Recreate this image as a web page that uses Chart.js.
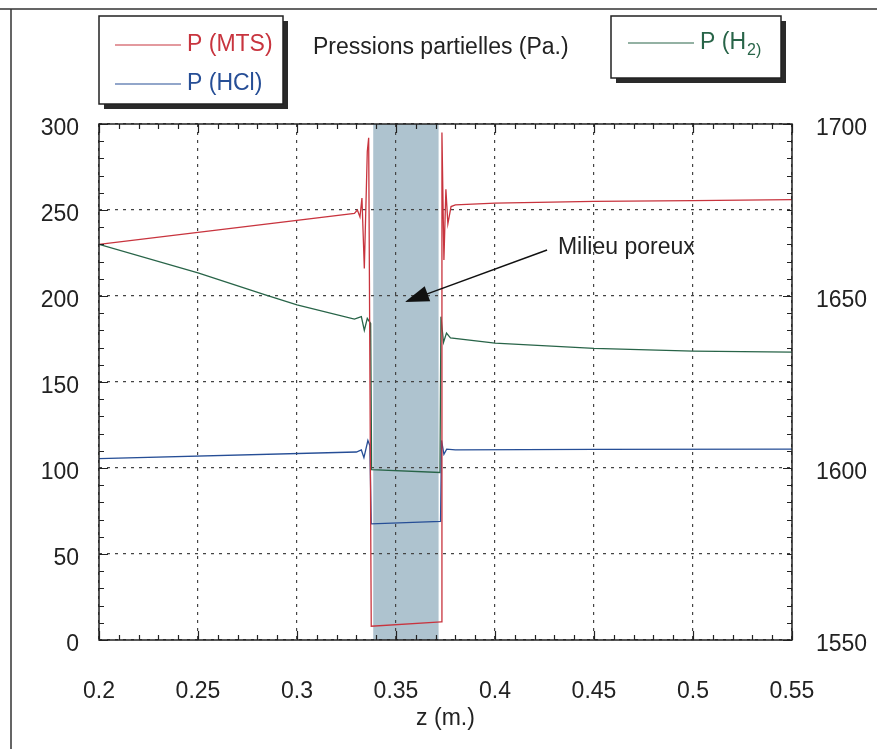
<!DOCTYPE html>
<html>
<head>
<meta charset="utf-8">
<script src="https://cdn.jsdelivr.net/npm/chart.js@4.4.1/dist/chart.umd.min.js"></script>
<style>
  html, body { margin: 0; padding: 0; background: #fff; }
  #wrap { width: 877px; height: 749px; position: relative; }
</style>
</head>
<body>
<div id="wrap"><canvas id="myChart" width="877" height="749"></canvas></div>
<script>
// abscisse z (m.) et pressions partielles
const zMTS = [0.2, 0.329, 0.3305, 0.3318, 0.3328, 0.334, 0.3355, 0.3362, 0.3375, 0.3728, 0.3732, 0.3742, 0.3752, 0.3762, 0.3778, 0.38, 0.4, 0.45, 0.5, 0.55];
const pMTS = [230, 248, 250, 246, 257, 216, 284, 292, 8, 10.5, 295, 221, 262, 242, 252, 253, 254, 255, 255.5, 256];

const zHCl = [0.2, 0.33, 0.3325, 0.3338, 0.3358, 0.3368, 0.3375, 0.3725, 0.373, 0.3742, 0.3756, 0.38, 0.45, 0.55];
const pHCl = [105.5, 109.3, 110.5, 106, 116, 113, 67.5, 69, 116, 108, 111, 110.5, 110.8, 111];

const zH2 = [0.2, 0.25, 0.284, 0.3, 0.329, 0.3325, 0.334, 0.3355, 0.3372, 0.3377, 0.3722, 0.3727, 0.374, 0.3755, 0.3775, 0.4, 0.45, 0.5, 0.55];
const pH2 = [1665, 1656.7, 1650.3, 1647.4, 1643.3, 1644, 1640, 1643.5, 1642, 1599.5, 1598.7, 1644, 1636.5, 1639.2, 1637.8, 1636.3, 1634.8, 1634, 1633.7];

const xTicks = [0.2, 0.25, 0.3, 0.35, 0.4, 0.45, 0.5, 0.55];
const yTicks = [0, 50, 100, 150, 200, 250, 300];
const y2Ticks = [1550, 1600, 1650, 1700];
const porousZone = [0.3385, 0.3715];

const RED = 'rgb(200,52,62)';
const BLUE = 'rgb(38,78,150)';
const GREEN = 'rgb(40,100,72)';
const FONT = "'Liberation Sans', Arial, Helvetica, sans-serif";
const FS = 23;

const toPoints = (xs, ys) => xs.map((x, i) => ({ x: x, y: ys[i] }));

const decorPlugin = {
  id: 'decor',
  beforeDraw(chart) {
    const ctx = chart.ctx;
    const x = chart.scales.x;
    const area = chart.chartArea;
    ctx.save();
    ctx.fillStyle = '#aec3cf';
    const x0 = x.getPixelForValue(porousZone[0]);
    const x1 = x.getPixelForValue(porousZone[1]);
    ctx.fillRect(x0, area.top, x1 - x0, area.bottom - area.top);
    ctx.restore();
  },
  afterDraw(chart) {
    const ctx = chart.ctx;
    const sx = chart.scales.x, sy = chart.scales.y, sy2 = chart.scales.y2;
    const a = chart.chartArea;
    ctx.save();
    // cadre de la page
    ctx.strokeStyle = '#333';
    ctx.lineWidth = 1.5;
    ctx.beginPath();
    ctx.moveTo(0, 9); ctx.lineTo(877, 9);
    ctx.moveTo(11, 9); ctx.lineTo(11, 749);
    ctx.stroke();

    // petites graduations vers l'interieur
    ctx.strokeStyle = '#222';
    ctx.lineWidth = 1.2;
    ctx.beginPath();
    for (let i = 0; i <= 35; i++) {
      const v = 0.2 + i * 0.01;
      const px = Math.round(sx.getPixelForValue(v)) + 0.5;
      const len = i % 5 === 0 ? 9 : 5;
      ctx.moveTo(px, a.bottom); ctx.lineTo(px, a.bottom - len);
      ctx.moveTo(px, a.top); ctx.lineTo(px, a.top + len);
    }
    for (let v = 0; v <= 300; v += 10) {
      const py = Math.round(sy.getPixelForValue(v)) + 0.5;
      const len = v % 50 === 0 ? 9 : 5;
      ctx.moveTo(a.left, py); ctx.lineTo(a.left + len, py);
    }
    for (let v = 1550; v <= 1700; v += 5) {
      const py = Math.round(sy2.getPixelForValue(v)) + 0.5;
      const len = v % 50 === 0 ? 9 : 5;
      ctx.moveTo(a.right, py); ctx.lineTo(a.right - len, py);
    }
    ctx.stroke();
    ctx.lineWidth = 1.5;
    ctx.strokeRect(a.left, a.top, a.right - a.left, a.bottom - a.top);

    // legendes
    const box = (bx, by, bw, bh) => {
      ctx.fillStyle = '#2a2a2a';
      ctx.fillRect(bx + 5, by + 5, bw, bh);
      ctx.fillStyle = '#fff';
      ctx.fillRect(bx, by, bw, bh);
      ctx.strokeStyle = '#222';
      ctx.lineWidth = 1.5;
      ctx.strokeRect(bx, by, bw, bh);
    };
    const entry = (lx, ly, color, label) => {
      ctx.strokeStyle = color;
      ctx.lineWidth = 1.2;
      ctx.beginPath();
      ctx.moveTo(lx, ly); ctx.lineTo(lx + 66, ly);
      ctx.stroke();
      ctx.fillStyle = color;
      ctx.font = FS + 'px ' + FONT;
      ctx.textAlign = 'left';
      ctx.textBaseline = 'middle';
      ctx.fillText(label, lx + 72, ly);
      return lx + 72 + ctx.measureText(label).width;
    };
    box(99, 16, 184, 88);
    entry(115, 45, RED, 'P (MTS)');
    entry(115, 84, BLUE, 'P (HCl)');
    box(611, 16, 170, 62);
    const end = entry(628, 43, GREEN, 'P (H');
    ctx.font = '16px ' + FONT;
    ctx.fillText('2)', end + 1, 51);

    ctx.fillStyle = '#222';
    ctx.font = FS + 'px ' + FONT;
    ctx.textAlign = 'left';
    ctx.textBaseline = 'middle';
    ctx.fillText('Pressions partielles (Pa.)', 313, 48);

    // annotation du milieu poreux
    const tx = sx.getPixelForValue(0.4263), ty = sy.getPixelForValue(226.7);
    const hx = sx.getPixelForValue(0.3545), hy = sy.getPixelForValue(196.5);
    const ang = Math.atan2(hy - ty, hx - tx);
    ctx.strokeStyle = '#111';
    ctx.lineWidth = 1.5;
    ctx.beginPath();
    ctx.moveTo(tx, ty);
    ctx.lineTo(hx - 18 * Math.cos(ang), hy - 18 * Math.sin(ang));
    ctx.stroke();
    ctx.fillStyle = '#111';
    ctx.beginPath();
    ctx.moveTo(hx, hy);
    ctx.lineTo(hx - 24 * Math.cos(ang) + 8 * Math.sin(ang), hy - 24 * Math.sin(ang) - 8 * Math.cos(ang));
    ctx.lineTo(hx - 24 * Math.cos(ang) - 8 * Math.sin(ang), hy - 24 * Math.sin(ang) + 8 * Math.cos(ang));
    ctx.closePath();
    ctx.fill();
    ctx.fillStyle = '#222';
    ctx.font = FS + 'px ' + FONT;
    ctx.fillText('Milieu poreux', sx.getPixelForValue(0.4318), sy.getPixelForValue(228));
    ctx.restore();
  }
};

const gridStyle = {
  color: '#444',
  lineWidth: 1.2,
  drawTicks: false,
};

const numLabel = (v) => String(parseFloat(Number(v).toFixed(2)));

const config = {
  type: 'line',
  data: {
    datasets: [
      { label: 'P (MTS)', data: toPoints(zMTS, pMTS), borderColor: RED, yAxisID: 'y' },
      { label: 'P (HCl)', data: toPoints(zHCl, pHCl), borderColor: BLUE, yAxisID: 'y' },
      { label: 'P (H2)', data: toPoints(zH2, pH2), borderColor: GREEN, yAxisID: 'y2' },
    ],
  },
  options: {
    responsive: false,
    devicePixelRatio: 1,
    animation: false,
    layout: { padding: { top: 124, left: 0, right: 0, bottom: 0 } },
    elements: {
      point: { radius: 0 },
      line: { borderWidth: 1.3, tension: 0 },
    },
    plugins: { legend: { display: false }, tooltip: { enabled: false } },
    scales: {
      x: {
        type: 'linear',
        min: 0.2, max: 0.55,
        afterBuildTicks: (s) => { s.ticks = xTicks.map(v => ({ value: v })); },
        afterFit: (s) => { s.height = 109; },
        ticks: {
          padding: 38,
          color: '#222',
          font: { family: FONT, size: FS },
          callback: numLabel,
        },
        grid: Object.assign({}, gridStyle),
        border: { display: false, dash: [3, 5] },
        title: {
          display: true,
          text: 'z (m.)',
          color: '#222',
          font: { family: FONT, size: FS },
          padding: { top: 0, bottom: 17 },
        },
      },
      y: {
        position: 'left',
        min: 0, max: 300,
        afterBuildTicks: (s) => { s.ticks = yTicks.map(v => ({ value: v })); },
        afterFit: (s) => { s.width = 99; },
        ticks: { padding: 20, color: '#222', font: { family: FONT, size: FS }, labelOffset: 5, callback: numLabel },
        grid: Object.assign({}, gridStyle),
        border: { display: false, dash: [3, 5] },
      },
      y2: {
        position: 'right',
        min: 1550, max: 1700,
        afterBuildTicks: (s) => { s.ticks = y2Ticks.map(v => ({ value: v })); },
        afterFit: (s) => { s.width = 85; },
        ticks: { padding: 16, color: '#222', font: { family: FONT, size: FS }, labelOffset: 5, callback: numLabel },
        grid: { display: false },
        border: { display: false },
      },
    },
  },
  plugins: [decorPlugin],
};

const myChart = new Chart(document.getElementById('myChart'), config);
</script>
</body>
</html>
